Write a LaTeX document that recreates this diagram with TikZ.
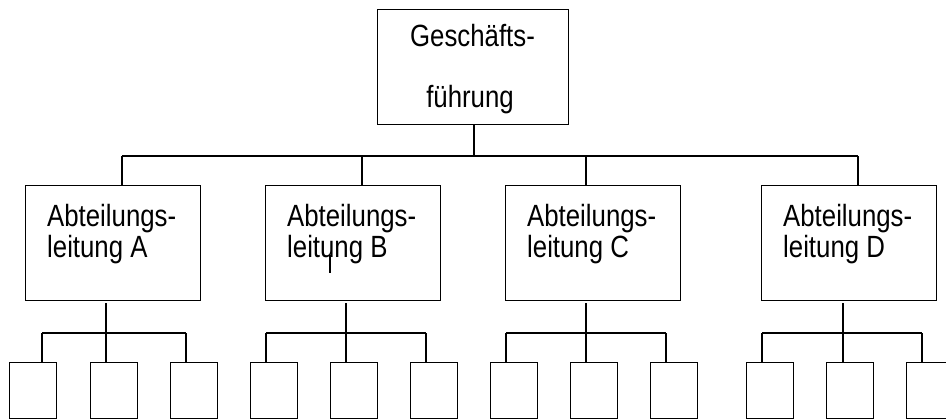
\documentclass[tikz,border=0pt]{standalone}
\usepackage{fontspec}
\setmainfont{Liberation Sans}
\newfontfamily\tallfont[FakeStretch=0.84]{Liberation Sans}
\begin{document}
\begin{tikzpicture}[x=1pt,y=-1pt,
  box/.style={draw=black, line width=1.3pt, inner sep=0pt, anchor=north west, fill=white},
  mbox/.style={minimum width=175pt, minimum height=115pt},
  cbox/.style={minimum width=47pt, minimum height=56pt},
  conn/.style={draw=black, line width=1.3pt},
  lbl/.style={font=\tallfont\fontsize{30.7}{32}\selectfont, inner sep=0pt, anchor=base west}]
\clip (0,0) rectangle (946,420);
\fill[white] (0,0) rectangle (946,420);
% top box
\node[box, minimum width=191pt, minimum height=115pt] (gf) at (377,9) {};
\node[lbl, anchor=base] (gf-t1) at (472.5,47) {Geschäfts-};
\node[lbl, anchor=base] (gf-t2) at (470,107) {führung};
\coordinate (bus) at (474,156);
\draw[conn] (gf.south -| bus) -- (bus);
% departments
\foreach \n/\bx/\cx/\sx/\ca/\cb/\cc/\da/\db/\dc in {
  A/25/122/106/9/90/170/42/106/186,
  B/265/362/346/250/330/410/266/346/426,
  C/505/586/586/490/570/650/506/586/666,
  D/761/858/843/746/826/906/762/843/922}{
  \node[box, mbox] (\n) at (\bx,185) {};
  \node[lbl] (\n-t1) at (\bx+22,226) {Abteilungs-};
  \node[lbl] (\n-t2) at (\bx+22,257) {leitung \n};
  \coordinate (\n-c) at (\cx,156);
  \draw[conn] (\n-c) -- (\n-c |- \n.north);
  \coordinate (\n-s) at (\sx,303);
  \coordinate (\n-h) at (\sx,333);
  \draw[conn] (\n-s) -- (\n-h);
  \node[box, cbox] (\n-1) at (\ca,362) {};
  \node[box, cbox] (\n-2) at (\cb,362) {};
  \node[box, cbox] (\n-3) at (\cc,362) {};
  \coordinate (\n-l) at (\da,333);
  \coordinate (\n-m) at (\db,333);
  \coordinate (\n-r) at (\dc,333);
  \draw[conn] (\n-l) -- (\n-r);
  \draw[conn] (\n-l) -- (\n-l |- \n-1.north);
  \draw[conn] (\n-m) -- (\n-m |- \n-2.north);
  \draw[conn] (\n-r) -- (\n-r |- \n-3.north);
}
\draw[conn] (A-c) -- (D-c);
% stray mark in box B
\coordinate (st1) at (330,255);
\coordinate (st2) at (330,273);
\draw[conn] (st1) -- (st2);
\end{tikzpicture}
\end{document}
